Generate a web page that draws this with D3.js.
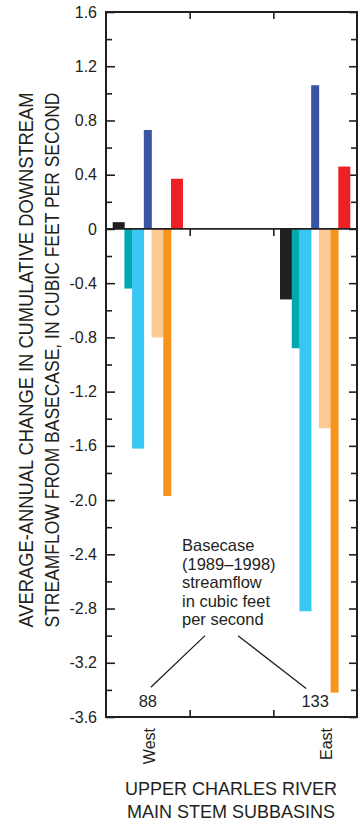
<meta charset="utf-8">
<style>
body { margin: 0; background: #fff; }
text { font-family: "Liberation Sans", Arial, sans-serif; fill: #231f20; }
.tick text { font-size: 16px; }
.domain { display: none; }
.tick line { stroke: #231f20; stroke-width: 1.6; }
</style>
<body>
<script src="https://cdnjs.cloudflare.com/ajax/libs/d3/7.8.5/d3.min.js"></script>
<script>

var subbasins = ["West", "East"];
var basecase = [88, 133];
var series = ["s1", "s2", "s3", "s4", "s5", "s6", "s7"];
var colors = ["#231f20", "#00a9b0", "#38c6f4", "#3a55a4", "#fdca93", "#f7941d", "#ed2024"];
var westValues = [0.05, -0.44, -1.62, 0.73, -0.80, -1.97, 0.37];
var eastValues = [-0.52, -0.88, -2.82, 1.06, -1.47, -3.42, 0.46];
var majorTicks = [1.6, 1.2, 0.8, 0.4, 0, -0.4, -0.8, -1.2, -1.6, -2.0, -2.4, -2.8, -3.2, -3.6];
var minorTicks = [1.4, 1.0, 0.6, 0.2, -0.2, -0.6, -1.0, -1.4, -1.8, -2.2, -2.6, -3.0, -3.4];

var width = 360, height = 826;
var plotLeft = 106, plotRight = 357, plotTop = 12, plotBottom = 717;

var svg = d3.select("body").append("svg")
    .attr("width", width)
    .attr("height", height);

var y = d3.scaleLinear().domain([-3.6, 1.6]).range([plotBottom, plotTop]);
// three equal columns, the middle one left empty
var x = d3.scaleBand().domain([0, 1, 2]).range([plotLeft, plotRight]);
var groupIndex = { West: 0, East: 2 };
function groupCenter(name) { return x(groupIndex[name]) + x.bandwidth() / 2; }

var sub = d3.scaleBand().domain(series).range([-34, 34]);
var barWidths = [12, 8, 12, 8, 12, 8, 12];

// y axes
svg.append("g")
    .attr("transform", "translate(" + plotLeft + ",0)")
    .call(d3.axisLeft(y).tickValues(majorTicks).tickSize(-9).tickPadding(9)
      .tickFormat(function(d) { return d === 0 ? "0" : d.toFixed(1); }));
svg.append("g")
    .attr("transform", "translate(" + plotLeft + ",0)")
    .call(d3.axisLeft(y).tickValues(minorTicks).tickSize(-6).tickFormat(""));
svg.append("g")
    .attr("transform", "translate(" + plotRight + ",0)")
    .call(d3.axisRight(y).tickValues(majorTicks).tickSize(-8).tickFormat(""));
svg.append("g")
    .attr("transform", "translate(" + plotRight + ",0)")
    .call(d3.axisRight(y).tickValues(minorTicks).tickSize(-6).tickFormat(""));

// column ticks on top, zero line and bottom
var xTicks = [1, 2].map(function(i) { return x(i); });
svg.append("g").attr("transform", "translate(0," + plotTop + ")")
    .call(d3.axisBottom(d3.scaleIdentity()).tickValues(xTicks).tickSize(7).tickFormat(""));
svg.append("g").attr("transform", "translate(0," + plotBottom + ")")
    .call(d3.axisTop(d3.scaleIdentity()).tickValues(xTicks).tickSize(7).tickFormat(""));
svg.append("g").attr("transform", "translate(0," + y(0) + ")")
    .call(d3.axisBottom(d3.scaleIdentity()).tickValues(xTicks).tickSize(7).tickFormat(""));

// bars
var rows = [];
subbasins.forEach(function(b, bi) {
  var vals = bi === 0 ? westValues : eastValues;
  series.forEach(function(s, i) {
    rows.push({ basin: b, series: s, i: i, value: vals[i] });
  });
});

svg.append("g").selectAll("rect")
    .data(rows)
  .enter().append("rect")
    .attr("x", function(d) { return groupCenter(d.basin) + sub(d.series) + sub.bandwidth() / 2 - barWidths[d.i] / 2; })
    .attr("width", function(d) { return barWidths[d.i]; })
    .attr("y", function(d) { return y(Math.max(0, d.value)); })
    .attr("height", function(d) { return Math.abs(y(d.value) - y(0)); })
    .attr("fill", function(d) { return colors[d.i]; });

// zero line
svg.append("line")
    .attr("x1", plotLeft).attr("x2", plotRight)
    .attr("y1", y(0)).attr("y2", y(0))
    .attr("stroke", "#231f20").attr("stroke-width", 1.6);

// frame
svg.append("rect")
    .attr("x", plotLeft).attr("y", plotTop)
    .attr("width", plotRight - plotLeft).attr("height", plotBottom - plotTop)
    .attr("fill", "none").attr("stroke", "#231f20").attr("stroke-width", 2);

// basecase annotation
var noteX = 182;
var note = svg.append("text").attr("x", noteX).attr("y", 551).style("font-size", "16.5px");
["Basecase", "(1989\u20131998)", "streamflow", "in cubic feet", "per second"].forEach(function(t, i) {
  note.append("tspan").attr("x", noteX).attr("dy", i === 0 ? 0 : 18.5).text(t);
});

svg.append("g").selectAll("text")
    .data(subbasins)
  .enter().append("text")
    .attr("x", function(d) { return groupCenter(d); })
    .attr("y", 707)
    .attr("text-anchor", "middle")
    .style("font-size", "16.5px")
    .text(function(d, i) { return basecase[i]; });

svg.append("line")
    .attr("x1", groupCenter("West") + 3).attr("y1", y(-3.38))
    .attr("x2", noteX + 23).attr("y2", y(-3.0))
    .attr("stroke", "#231f20").attr("stroke-width", 1.3);
svg.append("line")
    .attr("x1", noteX + 56).attr("y1", y(-3.0))
    .attr("x2", groupCenter("East") - 9).attr("y2", y(-3.39))
    .attr("stroke", "#231f20").attr("stroke-width", 1.3);

// category labels
svg.append("g").selectAll("text")
    .data(subbasins)
  .enter().append("text")
    .attr("transform", function(d, i) {
      return "translate(" + (groupCenter(d) + (i === 1 ? 17 : 7)) + ",728) rotate(-90)";
    })
    .attr("text-anchor", "end")
    .style("font-size", "16px")
    .text(function(d) { return d; });

// axis titles
svg.append("text")
    .attr("x", 231).attr("y", 795)
    .attr("text-anchor", "middle")
    .style("font-size", "18px")
    .text("UPPER CHARLES RIVER");
svg.append("text")
    .attr("x", 231).attr("y", 818)
    .attr("text-anchor", "middle")
    .style("font-size", "18px")
    .text("MAIN STEM SUBBASINS");

var yTitle = ["AVERAGE-ANNUAL CHANGE IN CUMULATIVE DOWNSTREAM",
              "STREAMFLOW FROM BASECASE, IN CUBIC FEET PER SECOND"];
svg.append("g").selectAll("text")
    .data(yTitle)
  .enter().append("text")
    .attr("transform", function(d, i) { return "translate(" + (33 + i * 26) + ",360) rotate(-90)"; })
    .attr("text-anchor", "middle")
    .attr("textLength", 535)
    .attr("lengthAdjust", "spacingAndGlyphs")
    .style("font-size", "20.5px")
    .text(function(d) { return d; });

</script>
